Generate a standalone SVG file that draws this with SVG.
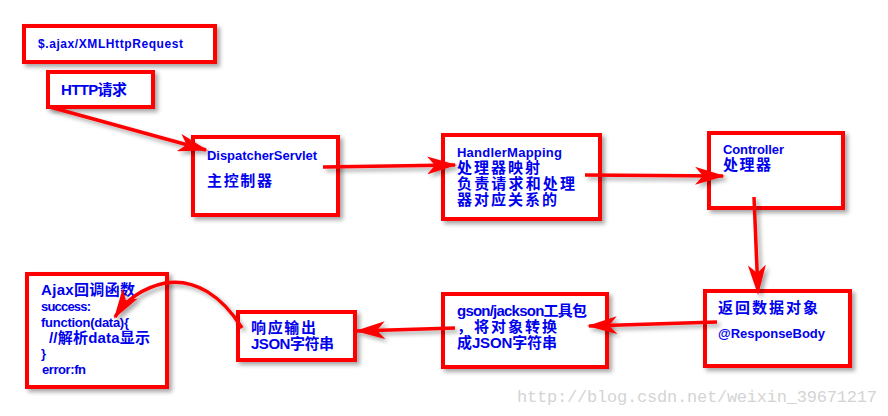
<svg xmlns="http://www.w3.org/2000/svg" width="888" height="416" viewBox="0 0 888 416">
<style>
.box{fill:#fff;stroke:#ff0000;stroke-width:4;filter:url(#sh)}
.t{font-family:"Liberation Sans","Noto Sans CJK SC",sans-serif;font-weight:bold;fill:#0000ee}
.s12{font-size:12px}
.s13{font-size:13px}
.s15{font-size:15px}
.c{fill:none;stroke:#ff0000;stroke-width:3.5}
.wm{font-family:"Liberation Mono",monospace;font-size:17px;fill:#d4d4d4}
</style>
<defs>
<filter id="sh" filterUnits="userSpaceOnUse" x="0" y="0" width="888" height="416">
<feDropShadow dx="3" dy="3" stdDeviation="2" flood-color="#000" flood-opacity="0.35"/>
</filter>
<marker id="ah" markerUnits="userSpaceOnUse" markerWidth="30" markerHeight="18" refX="28" refY="9" orient="auto">
<path d="M0,0 L30,9 L0,18 L8,9 z" fill="#ff0000"/>
</marker>
</defs>
<g id="n1"><rect class="box" x="24" y="26" width="191" height="36"/><text class="t s12" x="38" y="48" textLength="145">$.ajax/XMLHttpRequest</text></g>
<g id="n2"><rect class="box" x="48" y="72" width="105" height="35"/><text class="t s15" x="61" y="95" textLength="66">HTTP请求</text></g>
<g id="n3"><rect class="box" x="193" y="137" width="145" height="78"/><text class="t s13" x="207" y="160" textLength="110">DispatcherServlet</text><text class="t s15" x="207" y="186" textLength="65">主控制器</text></g>
<g id="n4"><rect class="box" x="443" y="135" width="157" height="84"/><text class="t s13" x="457" y="157" textLength="105">HandlerMapping</text><text class="t s15" x="457" y="173" textLength="83">处理器映射</text><text class="t s15" x="457" y="189" textLength="118">负责请求和处理</text><text class="t s15" x="457" y="205" textLength="100">器对应关系的</text></g>
<g id="n5"><rect class="box" x="709" y="133" width="134" height="75"/><text class="t s13" x="723" y="154" textLength="61">Controller</text><text class="t s15" x="723" y="170" textLength="48">处理器</text></g>
<g id="n6"><rect class="box" x="705" y="291" width="145" height="75"/><text class="t s15" x="718" y="313" textLength="100">返回数据对象</text><text class="t s13" x="718" y="338" textLength="107">@ResponseBody</text></g>
<g id="n7"><rect class="box" x="443" y="294" width="164" height="73"/><text class="t s15" x="457" y="316" textLength="130">gson/jackson工具包</text><text class="t s15" x="457" y="332" textLength="100">，将对象转换</text><text class="t s15" x="457" y="348" textLength="100">成JSON字符串</text></g>
<g id="n8"><rect class="box" x="238" y="312" width="117" height="48"/><text class="t s15" x="251" y="333" textLength="65">响应输出</text><text class="t s15" x="251" y="349" textLength="83">JSON字符串</text></g>
<g id="n9"><rect class="box" x="27" y="274" width="140" height="113"/><text class="t s15" x="41" y="295" textLength="94">Ajax回调函数</text><text class="t s13" x="41" y="311" textLength="50">success:</text><text class="t s13" x="41" y="327" textLength="88">function(data){</text><text class="t s15" x="49" y="343" textLength="101">//解析data显示</text><text class="t s13" x="41" y="358">}</text><text class="t s13" x="42" y="374" textLength="44">error:fn</text></g>
<g id="connectors" filter="url(#sh)">
<path class="c" d="M50,107 L206,150" marker-end="url(#ah)"/>
<path class="c" d="M323,167 L455,165" marker-end="url(#ah)"/>
<path class="c" d="M585,175 L723,176" marker-end="url(#ah)"/>
<path class="c" d="M754,197 L758,293" marker-end="url(#ah)"/>
<path class="c" d="M717,322 L589,326" marker-end="url(#ah)"/>
<path class="c" d="M455,328 L357,331" marker-end="url(#ah)"/>
<path class="c" d="M242,328 C222,296 195,278 165,283 C142,288 126,300 115,317" marker-end="url(#ah)"/>
</g>
<text class="wm" x="517" y="402" textLength="360">http://blog.csdn.net/weixin_39671217</text>
</svg>
